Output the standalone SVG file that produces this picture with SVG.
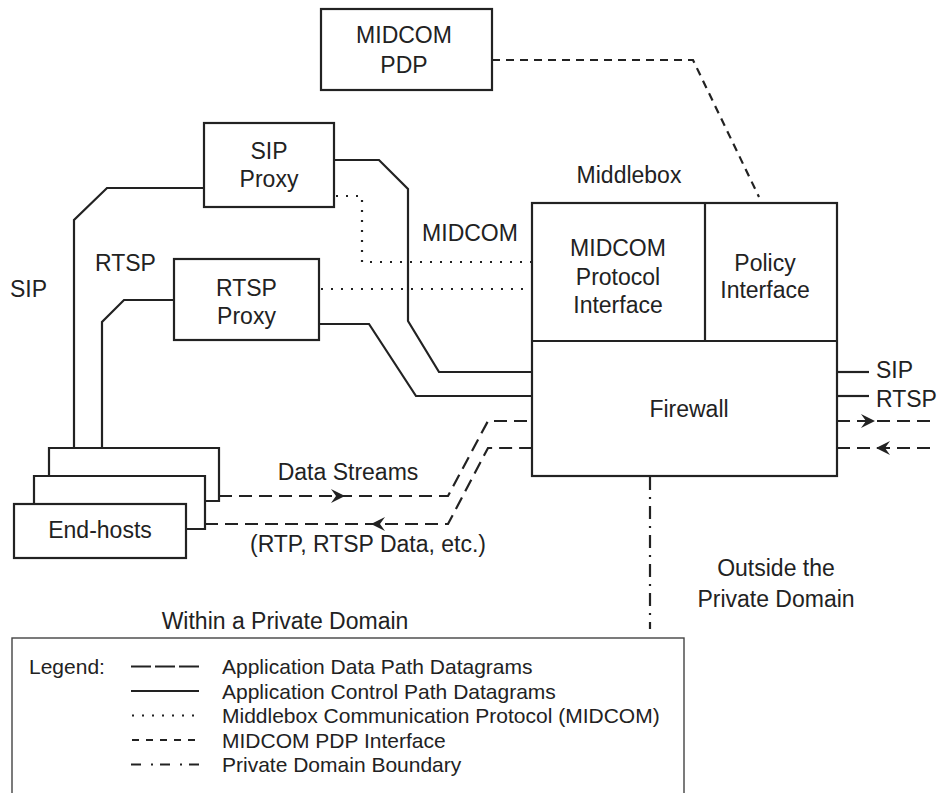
<svg xmlns="http://www.w3.org/2000/svg" xmlns:xlink="http://www.w3.org/1999/xlink" width="938" height="793" viewBox="0 0 938 793">
  <style>
    text { font-family: "Liberation Sans", Arial, sans-serif; fill: #222; }
    .lbl { font-size: 23px; }
    .mid { text-anchor: middle; }
    .leg { font-size: 21px; }
    .box { fill: #fff; stroke: #222; stroke-width: 2.2; }
    .ctl { fill: none; stroke: #222; stroke-width: 2.2; stroke-linejoin: miter; }
    .data { fill: none; stroke: #222; stroke-width: 2.2; stroke-dasharray: 13 7; }
    .midcom { fill: none; stroke: #222; stroke-width: 2.2; stroke-dasharray: 2 8; }
    .pdp { fill: none; stroke: #222; stroke-width: 2.2; stroke-dasharray: 8 6; }
    .bound { fill: none; stroke: #222; stroke-width: 2.2; stroke-dasharray: 13 7 2 7; }
    .sample { fill: none; stroke: #222; stroke-width: 2; }
  </style>
  <defs>
    <!-- barbed arrowhead, tip at origin, pointing +x -->
    <path id="ah" d="M0,0 L-14,-7 L-9,0 L-14,7 Z" fill="#222"/>
  </defs>

  <rect width="938" height="793" fill="#fff"/>

  <!-- connectors -->
  <g id="connectors">
    <!-- SIP control path -->
    <path class="ctl" d="M204,188 H107 L74,220 V448"/>
    <path class="ctl" d="M334,160 H379 L408,189 V321 L439,372 H532"/>
    <!-- RTSP control path -->
    <path class="ctl" d="M174,300 H124 L102,322 V448"/>
    <path class="ctl" d="M319,324 H369 L416,396 H532"/>
    <!-- outside control paths -->
    <path class="ctl" d="M837,372 H869"/>
    <path class="ctl" d="M837,396 H869"/>
    <!-- MIDCOM protocol -->
    <path class="midcom" d="M336,196 H362 V262 H532"/>
    <path class="midcom" d="M321,289 H532"/>
    <!-- PDP interface -->
    <path class="pdp" d="M492,60 H693 L759,197"/>
    <!-- data streams -->
    <path class="data" d="M219,496 H448 L488,421 H532"/>
    <path class="data" d="M205,524 H448 L488,448 H532"/>
    <path class="data" d="M837,421 H931"/>
    <path class="data" d="M837,448 H931"/>
    <use xlink:href="#ah" href="#ah" transform="translate(345,496)"/>
    <use xlink:href="#ah" href="#ah" transform="translate(371,524) rotate(180)"/>
    <use xlink:href="#ah" href="#ah" transform="translate(875,421)"/>
    <use xlink:href="#ah" href="#ah" transform="translate(876,448) rotate(180)"/>
    <!-- private domain boundary -->
    <path class="bound" d="M650,477 V629"/>
  </g>

  <!-- nodes -->
  <g id="pdp">
    <rect class="box" x="321" y="9" width="171" height="81"/>
    <text class="lbl mid" x="404" y="43">MIDCOM</text>
    <text class="lbl mid" x="404" y="73">PDP</text>
  </g>

  <g id="sip-proxy">
    <rect class="box" x="204" y="123" width="130" height="84"/>
    <text class="lbl mid" x="269" y="159">SIP</text>
    <text class="lbl mid" x="269" y="187">Proxy</text>
  </g>

  <g id="rtsp-proxy">
    <rect class="box" x="174" y="259" width="145" height="81"/>
    <text class="lbl mid" x="246.5" y="296">RTSP</text>
    <text class="lbl mid" x="246.5" y="324">Proxy</text>
  </g>

  <g id="middlebox">
    <text class="lbl mid" x="629" y="183">Middlebox</text>
    <rect class="box" x="532" y="203" width="305" height="273"/>
    <path class="ctl" d="M532,341 H837 M705,203 V341"/>
    <text class="lbl mid" x="618" y="256">MIDCOM</text>
    <text class="lbl mid" x="618" y="285">Protocol</text>
    <text class="lbl mid" x="618" y="313">Interface</text>
    <text class="lbl mid" x="765" y="271">Policy</text>
    <text class="lbl mid" x="765" y="298">Interface</text>
    <text class="lbl mid" x="689" y="417">Firewall</text>
  </g>

  <g id="end-hosts">
    <!-- back host -->
    <path class="ctl" d="M49,476 V448 H219 V501 H205"/>
    <!-- middle host -->
    <path class="ctl" d="M34,504 V476 H205 V529 H186"/>
    <!-- front host -->
    <rect class="box" x="14" y="504" width="172" height="54"/>
    <text class="lbl mid" x="100" y="538">End-hosts</text>
  </g>

  <!-- free labels -->
  <g id="labels">
    <text class="lbl" x="10" y="297">SIP</text>
    <text class="lbl" x="95" y="271">RTSP</text>
    <text class="lbl mid" x="470" y="241">MIDCOM</text>
    <text class="lbl" x="876" y="378">SIP</text>
    <text class="lbl" x="876" y="407">RTSP</text>
    <text class="lbl mid" x="348" y="480">Data Streams</text>
    <text class="lbl mid" x="368" y="552">(RTP, RTSP Data, etc.)</text>
    <text class="lbl mid" x="776" y="576">Outside the</text>
    <text class="lbl mid" x="776" y="607">Private Domain</text>
    <text class="lbl mid" x="285" y="629">Within a Private Domain</text>
  </g>

  <!-- legend -->
  <g id="legend">
    <rect x="12" y="638" width="672" height="170" fill="none" stroke="#444" stroke-width="1.4"/>
    <text class="leg" x="29" y="674">Legend:</text>
    <path class="sample" d="M131,666.5 H199" stroke-dasharray="20 4"/>
    <path class="sample" d="M131,691 H199"/>
    <path class="sample" d="M132,715.5 H199" stroke-dasharray="2 8"/>
    <path class="sample" d="M132,740 H199" stroke-dasharray="7 7"/>
    <path class="sample" d="M131,764.5 H199" stroke-dasharray="10 10 2 7"/>
    <text class="leg" x="222" y="674">Application Data Path Datagrams</text>
    <text class="leg" x="222" y="698.5">Application Control Path Datagrams</text>
    <text class="leg" x="222" y="723">Middlebox Communication Protocol (MIDCOM)</text>
    <text class="leg" x="222" y="747.5">MIDCOM PDP Interface</text>
    <text class="leg" x="222" y="772">Private Domain Boundary</text>
  </g>
</svg>
